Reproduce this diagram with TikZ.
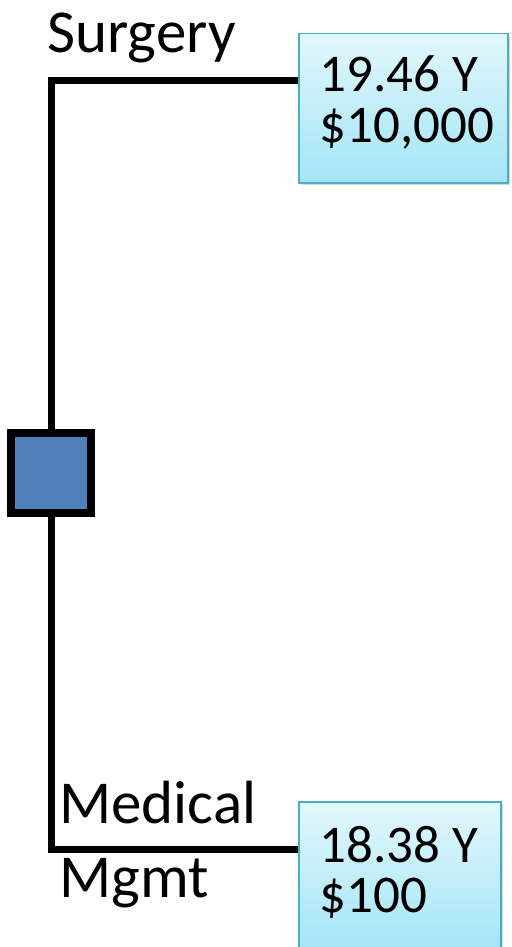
\documentclass[tikz,border=0pt]{standalone}
\usepackage{fontspec}
\setmainfont{Carlito}
\usetikzlibrary{shadows}
\definecolor{decBlue}{RGB}{79,129,189}
\definecolor{boxTop}{RGB}{226,247,252}
\definecolor{boxBot}{RGB}{163,229,247}
\definecolor{boxEdge}{RGB}{75,172,198}
\tikzset{
  branch/.style={line width=3.5pt},
  decnode/.style={draw,line width=4pt,fill=decBlue,minimum size=40pt,inner sep=0pt},
  payoff/.style={draw=boxEdge,line width=0.75pt,top color=boxTop,bottom color=boxBot,
    anchor=north west,inner sep=0pt,minimum height=74.5pt,
    drop shadow={shadow xshift=1pt,shadow yshift=-1pt,opacity=0.3}},
  branchlbl/.style={anchor=base west,align=left,inner sep=0pt,font=\fontsize{30.5}{37}\selectfont},
  valtxt/.style={anchor=base west,align=left,inner sep=0pt,font=\fontsize{26.5}{25}\selectfont}
}
\begin{document}
\begin{tikzpicture}[x=0.5pt,y=-0.5pt]
  \clip (0,0) rectangle (512,947);
  \node[decnode] (dec) at (51,473) {};
  \node[payoff,minimum width=104.5pt] (surgBox) at (298,33) {};
  \node[payoff,minimum width=101pt] (medBox) at (298,801) {};
  \coordinate (surgEnd) at (298,81);
  \coordinate (medEnd) at (298,849);
  \draw[branch] (dec.north) |- (surgEnd);
  \draw[branch] (dec.south) |- (medEnd);
  \node[branchlbl] (surgLbl) at (47,53) {Surgery};
  \node[branchlbl] (medLbl) at (59,897) {Medical\\Mgmt};
  \node[valtxt] (surgVal) at (319,142) {19.46 Y\\\$10,000};
  \node[valtxt] (medVal) at (319,912) {18.38 Y\\\$100};
\end{tikzpicture}
\end{document}
